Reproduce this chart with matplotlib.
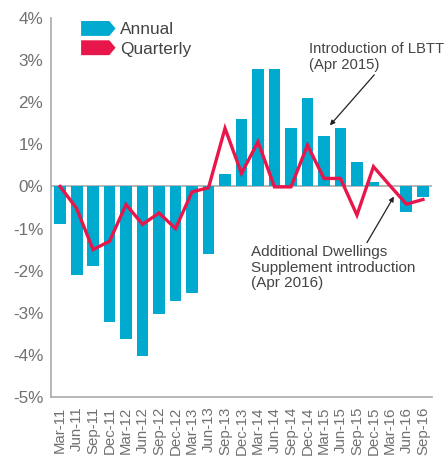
import numpy as np
import matplotlib
matplotlib.use("Agg")
import matplotlib.pyplot as plt
from matplotlib.patches import Patch, Polygon
from matplotlib.legend_handler import HandlerPatch

quarters = ["Mar-11", "Jun-11", "Sep-11", "Dec-11", "Mar-12", "Jun-12", "Sep-12",
            "Dec-12", "Mar-13", "Jun-13", "Sep-13", "Dec-13", "Mar-14", "Jun-14",
            "Sep-14", "Dec-14", "Mar-15", "Jun-15", "Sep-15", "Dec-15", "Mar-16",
            "Jun-16", "Sep-16"]
annual = [-0.90, -2.11, -1.90, -3.21, -3.62, -4.02, -3.02, -2.71, -2.52, -1.61,
          0.29, 1.60, 2.79, 2.79, 1.38, 2.10, 1.20, 1.38, 0.59, 0.10, 0.0,
          -0.60, -0.24]
quarterly = [0.0, -0.52, -1.50, -1.30, -0.43, -0.90, -0.63, -1.00, -0.13, -0.03,
             1.38, 0.31, 1.06, -0.01, -0.01, 0.98, 0.19, 0.19, -0.68, 0.47, 0.02,
             -0.42, -0.31]
yticks = [-5, -4, -3, -2, -1, 0, 1, 2, 3, 4]

blue = "#00a9ce"
red = "#e8174b"
grey = "#707070"
plt.rcParams["font.family"] = ["Liberation Sans", "DejaVu Sans"]


class ArrowHandler(HandlerPatch):
    # legend keys drawn as a tag pointing right
    def create_artists(self, legend, orig_handle, xdescent, ydescent,
                       width, height, fontsize, trans):
        x0, y0 = -xdescent, -ydescent
        tip = width * 0.18
        pts = [(x0, y0), (x0 + width - tip, y0), (x0 + width, y0 + height / 2),
               (x0 + width - tip, y0 + height), (x0, y0 + height)]
        p = Polygon(pts, closed=True, facecolor=orig_handle.get_facecolor(),
                    edgecolor="none", transform=trans)
        return [p]


fig = plt.figure(figsize=(4.44, 4.57), dpi=100)
ax = fig.add_axes([51 / 444, 1 - 397 / 457, 381 / 444, 379 / 457])

x = np.arange(len(quarters))
ax.bar(x, annual, width=0.72, color=blue, zorder=2)
ax.axhline(0, color="#aaaaaa", lw=1.2, zorder=1)
ax.plot(x, quarterly, color=red, lw=2.4, zorder=3, solid_joinstyle="miter")

ax.set_ylim(-5, 4)
ax.set_xlim(-0.55, 22.55)
ax.set_yticks(yticks)
ax.set_yticklabels([f"{v}%" for v in yticks], color=grey, fontsize=12.3)
ax.set_xticks(x)
ax.set_xticklabels(quarters, rotation=90, color=grey, fontsize=10.8)
ax.tick_params(axis="y", length=0, pad=5.5)
ax.tick_params(axis="x", length=0, pad=7)

for s in ["top", "right"]:
    ax.spines[s].set_visible(False)
for s in ["left", "bottom"]:
    ax.spines[s].set_color("#aaaaaa")
    ax.spines[s].set_linewidth(1.2)

handles = [Patch(facecolor=blue, label="Annual"), Patch(facecolor=red, label="Quarterly")]
ax.legend(handles=handles, handler_map={Patch: ArrowHandler()}, loc="upper left",
          bbox_to_anchor=(0.079, 0.992), frameon=False, fontsize=12.4,
          handlelength=2.0, handleheight=0.95, labelspacing=0.17, handletextpad=0.25,
          borderpad=0, borderaxespad=0, labelcolor="#444444")

ax.annotate("Introduction of LBTT\n(Apr 2015)", xy=(16.36, 1.45), xytext=(15.1, 3.42),
            fontsize=10.7, color="#444444", va="top", ha="left", linespacing=1.15,
            arrowprops=dict(arrowstyle="-|>", color="#222222", lw=0.9,
                            mutation_scale=7, shrinkA=0, shrinkB=0,
                            relpos=(0.5, 0)))
ax.annotate("Additional Dwellings\nSupplement introduction\n(Apr 2016)",
            xy=(20.24, -0.24), xytext=(11.58, -1.4),
            fontsize=11.0, color="#444444", va="top", ha="left", linespacing=1.12,
            arrowprops=dict(arrowstyle="-|>", color="#222222", lw=0.9,
                            mutation_scale=7, shrinkA=0, shrinkB=0,
                            relpos=(0.7, 1.03)))

fig.savefig("out.png", dpi=100)
